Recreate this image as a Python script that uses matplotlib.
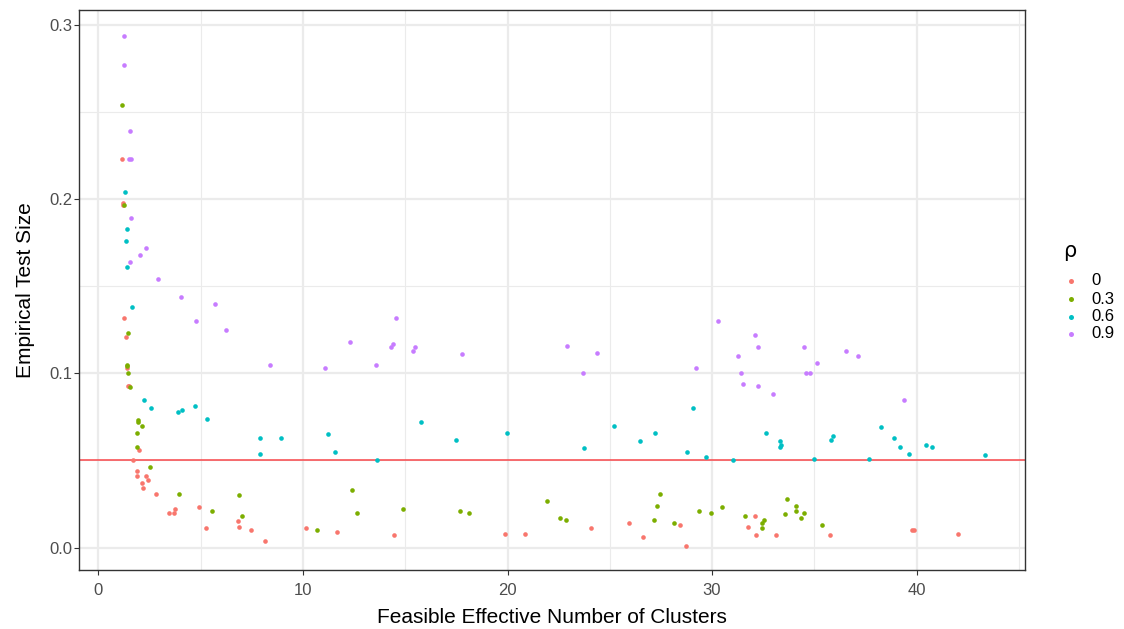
import matplotlib
matplotlib.use("Agg")
import matplotlib.pyplot as plt
from matplotlib.lines import Line2D
from matplotlib.ticker import MultipleLocator

plt.rcParams['font.family'] = ['Liberation Sans', 'DejaVu Sans']

rho_labels = ["0", "0.3", "0.6", "0.9"]
colors = ["#F8766D", "#7CAE00", "#00BFC4", "#C77CFF"]

x_r0 = [1.15, 1.20, 1.22, 1.26, 1.34, 1.39, 1.46, 1.50, 1.98, 1.67, 1.90, 1.90, 2.34, 2.42, 2.11,
        2.16, 2.81, 4.90, 3.76, 3.71, 3.45, 6.81, 6.89, 5.27, 7.44, 8.13, 10.16, 11.65, 14.45,
        19.89, 20.84, 24.08, 25.93, 26.64, 28.44, 28.73, 32.12, 31.78, 32.17, 33.15, 35.77,
        39.78, 39.86, 42.0]
y_r0 = [0.223, 0.198, 0.197, 0.132, 0.121, 0.103, 0.093, 0.093, 0.056, 0.050, 0.044, 0.041, 0.041,
        0.039, 0.037, 0.034, 0.031, 0.023, 0.022, 0.020, 0.020, 0.015, 0.012, 0.011, 0.010, 0.004,
        0.011, 0.009, 0.007, 0.008, 0.008, 0.011, 0.014, 0.006, 0.013, 0.001, 0.018, 0.012, 0.007,
        0.007, 0.007, 0.010, 0.010, 0.008]

x_r3 = [1.13, 1.23, 1.47, 1.38, 1.40, 1.46, 1.54, 1.93, 1.95, 2.14, 1.91, 1.91, 2.50, 3.94, 6.89,
        5.55, 7.03, 10.67, 12.38, 12.64, 14.89, 17.69, 18.12, 21.92, 22.58, 22.86, 27.46, 27.33,
        27.15, 28.16, 29.36, 29.97, 30.47, 31.60, 32.56, 32.46, 32.44, 33.65, 33.55, 34.11, 34.11,
        34.50, 34.37, 35.39]
y_r3 = [0.254, 0.197, 0.123, 0.105, 0.104, 0.100, 0.092, 0.073, 0.072, 0.070, 0.066, 0.058, 0.046,
        0.031, 0.030, 0.021, 0.018, 0.010, 0.033, 0.020, 0.022, 0.021, 0.020, 0.027, 0.017, 0.016,
        0.031, 0.024, 0.016, 0.014, 0.021, 0.020, 0.023, 0.018, 0.016, 0.014, 0.011, 0.028, 0.019,
        0.024, 0.021, 0.020, 0.017, 0.013]

x_r6 = [1.30, 1.38, 1.36, 1.41, 1.62, 2.21, 2.55, 3.87, 4.08, 4.70, 5.32, 7.91, 8.91, 7.90, 15.79,
        11.21, 11.55, 13.60, 17.47, 19.98, 23.73, 25.23, 26.50, 27.20, 29.06, 28.79, 29.69, 31.03,
        32.64, 33.33, 33.39, 33.31, 34.97, 35.82, 35.93, 37.69, 38.25, 38.90, 39.21, 39.62, 40.45,
        40.77, 43.32]
y_r6 = [0.204, 0.183, 0.176, 0.161, 0.138, 0.085, 0.080, 0.078, 0.079, 0.081, 0.074, 0.063, 0.063,
        0.054, 0.072, 0.065, 0.055, 0.050, 0.062, 0.066, 0.057, 0.070, 0.061, 0.066, 0.080, 0.055,
        0.052, 0.050, 0.066, 0.061, 0.059, 0.058, 0.051, 0.062, 0.064, 0.051, 0.069, 0.063, 0.058,
        0.054, 0.059, 0.058, 0.053]

x_r9 = [1.25, 1.26, 1.54, 1.49, 1.57, 1.59, 2.34, 2.03, 1.54, 2.89, 4.02, 5.71, 4.75, 6.25, 8.40,
        14.53, 12.31, 14.38, 14.29, 15.49, 15.40, 17.79, 13.57, 11.06, 22.92, 24.38, 23.71, 30.28,
        32.12, 32.25, 31.27, 29.20, 31.42, 31.53, 32.27, 32.98, 34.51, 35.13, 34.61, 34.79, 36.54,
        37.14, 39.39]
y_r9 = [0.294, 0.277, 0.239, 0.223, 0.223, 0.189, 0.172, 0.168, 0.164, 0.154, 0.144, 0.140, 0.130,
        0.125, 0.105, 0.132, 0.118, 0.117, 0.115, 0.115, 0.113, 0.111, 0.105, 0.103, 0.116, 0.112,
        0.100, 0.130, 0.122, 0.115, 0.110, 0.103, 0.100, 0.094, 0.093, 0.088, 0.115, 0.106, 0.100,
        0.100, 0.113, 0.110, 0.085]

nominal_size = 0.05

xs = [x_r0, x_r3, x_r6, x_r9]
ys = [y_r0, y_r3, y_r6, y_r9]

W, H = 1124, 629
fig = plt.figure(figsize=(W / 100, H / 100), dpi=100)
ax = fig.add_axes([79 / W, 1 - 570 / H, (1025 - 79) / W, (570 - 10) / H])

for x, y, c in zip(xs, ys, colors):
    ax.scatter(x, y, s=11, color=c, linewidths=0, zorder=3)

ax.axhline(nominal_size, color="#F8464A", lw=1.1, zorder=2)

ax.set_xlim(-0.95, 45.3)
ax.set_ylim(-0.0129, 0.3087)
ax.xaxis.set_minor_locator(MultipleLocator(5))
ax.yaxis.set_minor_locator(MultipleLocator(0.05))
ax.set_xticks([0, 10, 20, 30, 40])
ax.set_xticklabels(["0", "10", "20", "30", "40"])
ax.set_yticks([0.0, 0.1, 0.2, 0.3])
ax.set_yticklabels(["0.0", "0.1", "0.2", "0.3"])

ax.grid(which="major", color="#EBEBEB", lw=1.6, zorder=0)
ax.grid(which="minor", color="#EBEBEB", lw=0.8, zorder=0)
ax.set_axisbelow(True)
for sp in ax.spines.values():
    sp.set_color("#333333")
    sp.set_linewidth(1.0)
ax.tick_params(which="major", length=3.5, width=0.8, color="#333333",
               labelsize=12, labelcolor="#4D4D4D")
ax.tick_params(axis="y", pad=1.5)
ax.tick_params(axis="x", pad=6)
ax.tick_params(which="minor", length=0)

ax.set_xlabel("Feasible Effective Number of Clusters", fontsize=15, color="black", labelpad=7)
ax.set_ylabel("Empirical Test Size", fontsize=15, color="black", labelpad=10)

# legend drawn in figure pixel coordinates
fig.text(1063 / W, 1 - 251 / H, "ρ", fontsize=15, ha="left", va="center",
         color="black", family=["DejaVu Sans"])
entry_y = [281, 299, 316.5, 334]
for lab, c, yy in zip(rho_labels, colors, entry_y):
    fig.add_artist(Line2D([1071 / W], [1 - yy / H], marker="o", linestyle="none",
                          markersize=3.6, markerfacecolor=c, markeredgewidth=0,
                          transform=fig.transFigure))
    fig.text(1091 / W, 1 - yy / H, lab, fontsize=12, ha="left", va="center", color="black")

fig.savefig("out.png", dpi=100, facecolor="white")
